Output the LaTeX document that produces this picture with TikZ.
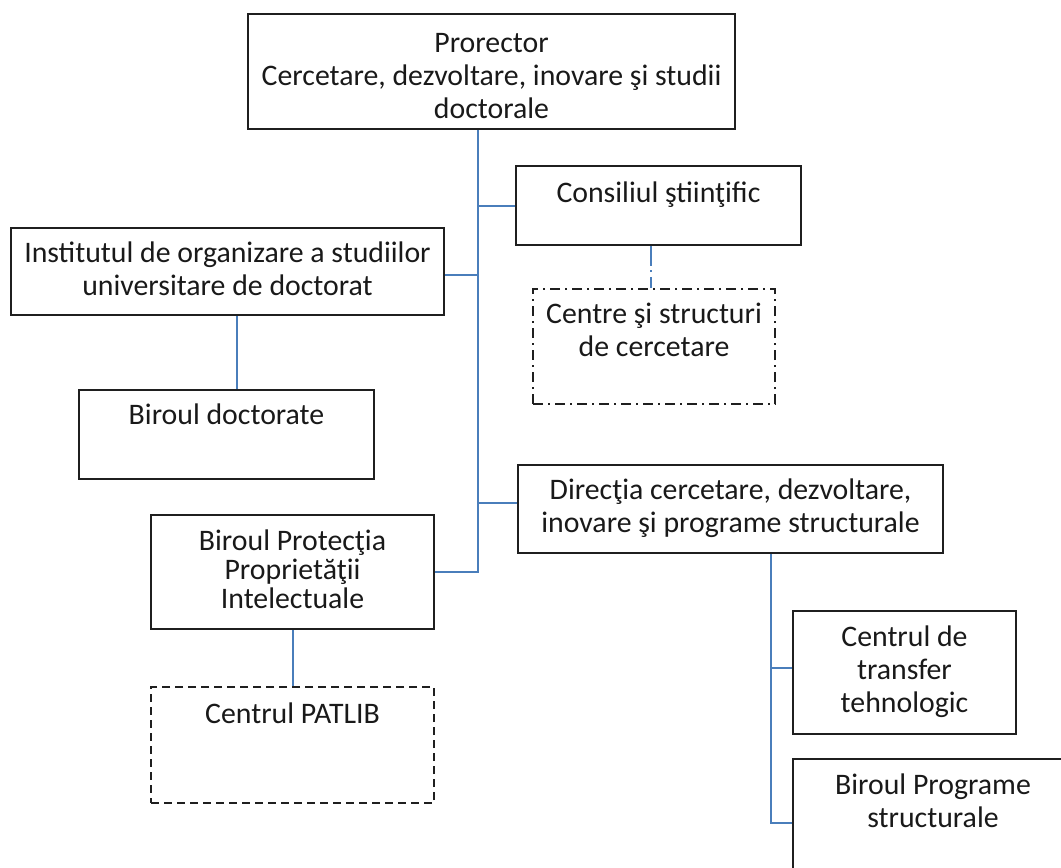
\documentclass[tikz,border=0pt]{standalone}
\usepackage{fontspec}
\setmainfont{Carlito}
\begin{document}
\begin{tikzpicture}[x=1pt,y=-1pt,
  boxstyle/.style={draw=black!88, line width=2pt, rectangle, inner sep=0pt, anchor=north west},
  dashbox/.style={boxstyle, dash pattern=on 8pt off 5pt},
  dotdashbox/.style={boxstyle, dash pattern=on 10pt off 5pt on 2pt off 5pt},
  txt/.style={anchor=north, inner sep=0pt, align=center, text=black!90,
    font=\fontsize{29.8pt}{33pt}\selectfont},
  tighttxt/.style={txt, font=\fontsize{29.8pt}{29pt}\selectfont},
  conn/.style={draw=blueline, line width=2pt},
  dotconn/.style={conn, dash pattern=on 20pt off 4pt on 2pt off 5pt}]
\definecolor{blueline}{HTML}{4A7EBB}
\useasboundingbox (0,0) rectangle (1061,868);

\newcommand{\fl}{\rule{0pt}{24pt}}

% boxes
\node[boxstyle, minimum width=487pt, minimum height=115pt] (pro) at (247,13) {};
\node[boxstyle, minimum width=285pt, minimum height=79pt] (cons) at (515,165) {};
\node[boxstyle, minimum width=433pt, minimum height=87pt] (inst) at (10,227) {};
\node[dotdashbox, minimum width=242pt, minimum height=115pt] (cen) at (532,288) {};
\node[boxstyle, minimum width=295pt, minimum height=89pt] (bdoc) at (78,389) {};
\node[boxstyle, minimum width=425pt, minimum height=88pt] (dir) at (517,464) {};
\node[boxstyle, minimum width=283pt, minimum height=114pt] (bpi) at (150,514) {};
\node[dashbox, minimum width=283pt, minimum height=116pt] (patlib) at (150,686) {};
\node[boxstyle, minimum width=223pt, minimum height=123pt] (cdt) at (792,610) {};
\node[boxstyle, minimum width=280pt, minimum height=128pt] (bps) at (792,758) {};

% texts
\node[txt] (pro-t) at ([yshift=-15pt]pro.north) {\fl Prorector\\Cercetare, dezvoltare, inovare şi studii\\doctorale};
\node[txt] (cons-t) at ([yshift=-13pt]cons.north) {\fl Consiliul ştiinţific};
\node[txt] (inst-t) at ([yshift=-11pt]inst.north) {\fl Institutul de organizare a studiilor\\universitare de doctorat};
\node[txt] (cen-t) at ([yshift=-11pt]cen.north) {\fl Centre şi structuri\\de cercetare};
\node[txt] (bdoc-t) at ([yshift=-11pt]bdoc.north) {\fl Biroul doctorate};
\node[txt] (dir-t) at ([yshift=-11pt]dir.north) {\fl Direcţia cercetare, dezvoltare,\\inovare şi programe structurale};
\node[tighttxt] (bpi-t) at ([yshift=-12pt]bpi.north) {\fl Biroul Protecţia\\Proprietăţii\\Intelectuale};
\node[txt] (patlib-t) at ([yshift=-13pt]patlib.north) {\fl Centrul PATLIB};
\node[txt] (cdt-t) at ([yshift=-12pt]cdt.north) {\fl Centrul de\\transfer\\tehnologic};
\node[txt] (bps-t) at ([yshift=-12pt]bps.north) {\fl Biroul Programe\\structurale};

% connectors
\coordinate (trunkx) at (478,0);
\coordinate (dirx) at (771,0);
\draw[conn] (pro.south -| trunkx) -- (bpi.east -| trunkx) -- (bpi.east);
\draw[conn] (cons.west) -- (cons.west -| trunkx);
\draw[conn] ([yshift=-3pt]inst.east) -- ([yshift=-3pt]inst.east -| trunkx);
\draw[conn] ([yshift=6pt]dir.west) -- ([yshift=6pt]dir.west -| trunkx);
\draw[conn] ([xshift=9pt]inst.south) -- ([xshift=9pt]inst.south |- bdoc.north);
\draw[dotconn] ([xshift=-3pt]cen.north |- cons.south) -- ([xshift=-3pt]cen.north);
\draw[conn] (bpi.south) -- (bpi.south |- patlib.north);
\draw[conn] (dir.south -| dirx) -- (bps.west -| dirx) -- (bps.west);
\draw[conn] ([yshift=5pt]cdt.west) -- ([yshift=5pt]cdt.west -| dirx);
\end{tikzpicture}
\end{document}
